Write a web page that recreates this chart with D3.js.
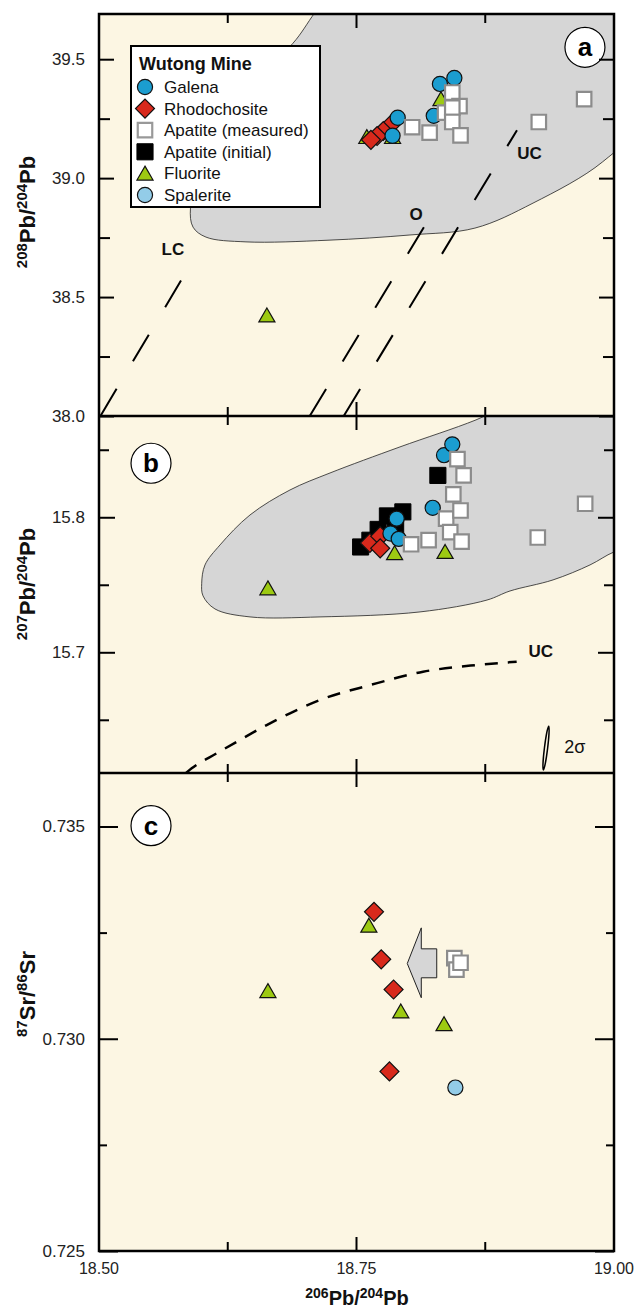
<!DOCTYPE html>
<html>
<head>
<meta charset="utf-8">
<script src="https://cdn.jsdelivr.net/npm/d3@7"></script>
<style>
body { margin: 0; background: #ffffff; }
svg text { font-family: "Liberation Sans", Arial, Helvetica, sans-serif; }
</style>
</head>
<body>
<svg id="chart" width="644" height="1309"></svg>
<script>
// ---- DATA -----------------------
var xTicksMajor = [18.50, 18.75, 19.00];
var xTicksMinor = [18.625, 18.875];
var aTicks = [38.0, 38.5, 39.0, 39.5];
var aMinor = [38.25, 38.75, 39.25];
var bTicks = [15.7, 15.8];
var bMinor = [15.65, 15.75, 15.85];
var cTicks = [0.725, 0.730, 0.735];
var cMinor = [0.7275, 0.7325];

var minerals = ["Galena", "Rhodochosite", "Apatite (measured)", "Apatite (initial)", "Fluorite", "Spalerite"];

// panel a : 206Pb/204Pb vs 208Pb/204Pb
var galenaA = [[18.785, 39.178], [18.790, 39.254], [18.825, 39.262], [18.831, 39.396], [18.845, 39.421]];
var rhodoA = [[18.783, 39.223], [18.776, 39.198], [18.770, 39.177], [18.764, 39.161]];
var fluoriteA = [[18.663, 38.415], [18.760, 39.165], [18.785, 39.165], [18.832, 39.324]];
var apatiteMeasA = [[18.836, 39.275], [18.804, 39.214], [18.821, 39.191], [18.843, 39.360], [18.850, 39.303],
    [18.843, 39.296], [18.843, 39.236], [18.851, 39.180], [18.927, 39.236], [18.971, 39.332]];

// panel b : 206Pb/204Pb vs 207Pb/204Pb
var galenaB = [[18.783, 15.788], [18.789, 15.799], [18.791, 15.784], [18.824, 15.807], [18.835, 15.846], [18.843, 15.854]];
var rhodoB = [[18.763, 15.781], [18.773, 15.786], [18.773, 15.777]];
var apatiteInitB = [[18.754, 15.778], [18.763, 15.783], [18.771, 15.791], [18.788, 15.792], [18.780, 15.801], [18.795, 15.804], [18.829, 15.831]];
var fluoriteB = [[18.664, 15.746], [18.787, 15.772], [18.836, 15.773]];
var apatiteMeasB = [[18.803, 15.780], [18.820, 15.783], [18.837, 15.799], [18.841, 15.789], [18.844, 15.817], [18.848, 15.843],
    [18.851, 15.805], [18.852, 15.782], [18.854, 15.831], [18.926, 15.785], [18.972, 15.810]];

// panel c : 206Pb/204Pb vs 87Sr/86Sr
var rhodoC = [[18.767, 0.73299], [18.774, 0.73187], [18.786, 0.73116], [18.782, 0.72923]];
var fluoriteC = [[18.664, 0.73108], [18.762, 0.73262], [18.793, 0.73060], [18.835, 0.73030]];
var apatiteMeasC = [[18.845, 0.73190], [18.847, 0.73163], [18.851, 0.73179]];
var spaleriteC = [[18.846, 0.72885]];

// grey fields, growth curves, arrow
var fieldA = [[18.7388, 39.802], [18.6883, 39.567], [18.6369, 39.307], [18.5981, 39.034], [18.5888, 38.874], [18.5913, 38.794],
    [18.6039, 38.752], [18.6427, 38.732], [18.7223, 38.739], [18.8019, 38.761], [18.8650, 38.790], [18.9214, 38.895],
    [18.9888, 39.068], [19.0252, 39.244], [19.0252, 39.802]];
var fieldB = [[18.5997, 15.7511], [18.6029, 15.7647], [18.6175, 15.7795], [18.6466, 15.8017], [18.6854, 15.8202],
    [18.7243, 15.8328], [18.7922, 15.8521], [18.8660, 15.8721], [18.9087, 15.8869], [19.0252, 15.8869], [19.0252, 15.7795],
    [19.0, 15.7743], [18.9767, 15.7647], [18.9408, 15.7536], [18.8990, 15.7454], [18.8767, 15.7387], [18.8117, 15.7299],
    [18.7146, 15.7262], [18.6466, 15.7262], [18.6126, 15.7321], [18.6010, 15.7418]];
var lcLineA = [[18.5017, 38.0021], [18.5803, 38.5744]];
var oLineA = [[18.7049, 38.0021], [18.8165, 38.8013]];
var ucLineA = [[18.7379, 38.0021], [18.9058, 39.2017]];
var ucCurveB = [[18.5845, 15.6107], [18.5900, 15.6141], [18.6143, 15.6252], [18.6369, 15.6351], [18.6628, 15.6461],
    [18.6854, 15.6548], [18.7146, 15.6647], [18.7631, 15.6757], [18.8146, 15.6856], [18.8667, 15.6906], [18.9055, 15.6930]];
var arrowC = [[18.7993, 0.731772], [18.8129, 0.732612], [18.8129, 0.732118], [18.8279, 0.732118],
    [18.8279, 0.731436], [18.8129, 0.731436], [18.8129, 0.730966]];

// ---- SCALES -----------------------
var svg = d3.select("#chart");
var left = 99, right = 614;
var x = d3.scaleLinear().domain([18.5, 19.0]).range([left, right]);
var ya = d3.scaleLinear().domain([38.0, 39.69]).range([416, 14]);
var yb = d3.scaleLinear().domain([15.6106, 15.875]).range([773, 416]);
var yc = d3.scaleLinear().domain([0.725, 0.73626]).range([1251, 773]);

var cream = "#fcf6e3";
var grey = "#d6d6d6";

// marker styles
var styles = {
    "Galena": { type: d3.symbolCircle, size: 180, fill: "#1b9dd0", stroke: "#111", sw: 1.2, rot: 0 },
    "Rhodochosite": { type: d3.symbolSquare, size: 180, fill: "#d8291c", stroke: "#111", sw: 1.2, rot: 45 },
    "Apatite (measured)": { type: d3.symbolSquare, size: 210, fill: "#ffffff", stroke: "#8c8c8c", sw: 2.2, rot: 0 },
    "Apatite (initial)": { type: d3.symbolSquare, size: 260, fill: "#000000", stroke: "#000", sw: 1, rot: 0 },
    "Fluorite": { type: d3.symbolTriangle, size: 112, fill: "#9dca12", stroke: "#111", sw: 1.2, rot: 0 },
    "Spalerite": { type: d3.symbolCircle, size: 180, fill: "#93cce8", stroke: "#111", sw: 1.2, rot: 0 }
};

function drawPoints(g, data, name, y) {
    var s = styles[name];
    g.selectAll(null)
        .data(data)
        .enter().append("path")
        .attr("d", d3.symbol().type(s.type).size(s.size))
        .attr("transform", function (d) {
            return "translate(" + x(d[0]) + "," + y(d[1]) + ") rotate(" + s.rot + ")";
        })
        .style("fill", s.fill)
        .style("stroke", s.stroke)
        .style("stroke-width", s.sw);
}

// ---- PANELS -----------------------
function makePanel(id, y) {
    var r = y.range();
    svg.append("clipPath").attr("id", "clip-" + id)
        .append("rect").attr("x", left).attr("y", r[1]).attr("width", right - left).attr("height", r[0] - r[1]);
    var g = svg.append("g").attr("clip-path", "url(#clip-" + id + ")");
    g.append("rect").attr("x", left).attr("y", r[1]).attr("width", right - left).attr("height", r[0] - r[1])
        .style("fill", cream);
    return g;
}

var ga = makePanel("a", ya);
var gb = makePanel("b", yb);
var gc = makePanel("c", yc);

// grey fields
ga.append("path")
    .attr("d", d3.line().x(function (d) { return x(d[0]); }).y(function (d) { return ya(d[1]); })
        .curve(d3.curveCatmullRomClosed.alpha(0.5))(fieldA))
    .style("fill", grey).style("stroke", "#222").style("stroke-width", 0.8);
gb.append("path")
    .attr("d", d3.line().x(function (d) { return x(d[0]); }).y(function (d) { return yb(d[1]); })
        .curve(d3.curveCatmullRomClosed.alpha(0.5))(fieldB))
    .style("fill", grey).style("stroke", "#222").style("stroke-width", 0.8);

// growth curves panel a
[lcLineA, oLineA, ucLineA].forEach(function (ln) {
    ga.append("path")
        .attr("d", d3.line().x(function (d) { return x(d[0]); }).y(function (d) { return ya(d[1]); })(ln))
        .style("fill", "none").style("stroke", "#000").style("stroke-width", 2)
        .style("stroke-dasharray", "31,32");
});
// upper crust curve panel b
gb.append("path")
    .attr("d", d3.line().x(function (d) { return x(d[0]); }).y(function (d) { return yb(d[1]); })
        .curve(d3.curveMonotoneX)(ucCurveB))
    .style("fill", "none").style("stroke", "#000").style("stroke-width", 2.5)
    .style("stroke-dasharray", "13,10");

// curve labels
function label(g, txt, px, py, size) {
    g.append("text").attr("x", px).attr("y", py).attr("text-anchor", "middle")
        .style("font-size", size + "px").style("font-weight", "bold").style("fill", "#111").text(txt);
}
label(ga, "LC", x(18.5718), ya(38.704) + 6, 17);
label(ga, "O", x(18.8078), ya(38.850) + 6, 17);
label(ga, "UC", x(18.918), ya(39.106) + 6, 17);
label(gb, "UC", x(18.929), yb(15.701) + 6, 17);

// 2 sigma ellipse
gb.append("ellipse")
    .attr("cx", x(18.934)).attr("cy", yb(15.629)).attr("rx", 1.6).attr("ry", 22)
    .attr("transform", "rotate(7," + x(18.934) + "," + yb(15.629) + ")")
    .style("fill", "none").style("stroke", "#000").style("stroke-width", 1.5);
gb.append("text").attr("x", x(18.962)).attr("y", yb(15.630) + 6).attr("text-anchor", "middle")
    .style("font-size", "18px").style("fill", "#111").text("2σ");

// arrow panel c
gc.append("path")
    .attr("d", d3.line().x(function (d) { return x(d[0]); }).y(function (d) { return yc(d[1]); })(arrowC) + "Z")
    .style("fill", grey).style("stroke", "#222").style("stroke-width", 1);

// points
drawPoints(ga, fluoriteA, "Fluorite", ya);
drawPoints(ga, rhodoA, "Rhodochosite", ya);
drawPoints(ga, galenaA, "Galena", ya);
drawPoints(ga, apatiteMeasA, "Apatite (measured)", ya);

drawPoints(gb, fluoriteB, "Fluorite", yb);
drawPoints(gb, apatiteInitB, "Apatite (initial)", yb);
drawPoints(gb, rhodoB, "Rhodochosite", yb);
drawPoints(gb, galenaB, "Galena", yb);
drawPoints(gb, apatiteMeasB, "Apatite (measured)", yb);

drawPoints(gc, rhodoC, "Rhodochosite", yc);
drawPoints(gc, fluoriteC, "Fluorite", yc);
drawPoints(gc, apatiteMeasC, "Apatite (measured)", yc);
drawPoints(gc, spaleriteC, "Spalerite", yc);

// ---- LEGEND -----------------------
var legend = svg.append("g").attr("transform", "translate(131,46)");
legend.append("rect").attr("width", 189).attr("height", 161)
    .style("fill", "#ffffff").style("stroke", "#000").style("stroke-width", 2);
legend.append("text").attr("x", 8).attr("y", 24)
    .style("font-size", "18px").style("font-weight", "bold").style("fill", "#111").text("Wutong Mine");
minerals.forEach(function (m, i) {
    var s = styles[m];
    var cy = 41 + i * 21.6;
    legend.append("path")
        .attr("d", d3.symbol().type(s.type).size(s.size)())
        .attr("transform", "translate(14," + (m == "Fluorite" ? cy + 2 : cy) + ") rotate(" + s.rot + ")")
        .style("fill", s.fill).style("stroke", m == "Apatite (measured)" ? "#999" : s.stroke).style("stroke-width", s.sw);
    legend.append("text").attr("x", 33).attr("y", cy + 6)
        .style("font-size", "17px").style("fill", "#111").text(m);
});

// ---- PANEL LETTERS -----------------------
[["a", x(18.9718), ya(39.55)], ["b", x(18.5505), yb(15.840)], ["c", x(18.5505), yc(0.73502)]].forEach(function (p) {
    svg.append("circle").attr("cx", p[1]).attr("cy", p[2]).attr("r", 20)
        .style("fill", "#fff").style("stroke", "#000").style("stroke-width", 1.2);
    svg.append("text").attr("x", p[1]).attr("y", p[2] + 9).attr("text-anchor", "middle")
        .style("font-size", "26px").style("font-weight", "bold").style("fill", "#000").text(p[0]);
});

// ---- AXES -----------------------
function yAxes(y, major, minor, fmt, majorLen, minorLen) {
    var gl = svg.append("g").attr("transform", "translate(" + left + ",0)")
        .call(d3.axisLeft(y).tickValues(major).tickSizeInner(-majorLen).tickSizeOuter(0).tickPadding(14).tickFormat(d3.format(fmt)));
    var gl2 = svg.append("g").attr("transform", "translate(" + left + ",0)")
        .call(d3.axisLeft(y).tickValues(minor).tickSizeInner(-minorLen).tickSizeOuter(0).tickFormat(""));
    var gr = svg.append("g").attr("transform", "translate(" + right + ",0)")
        .call(d3.axisRight(y).tickValues(major).tickSizeInner(-majorLen).tickSizeOuter(0).tickFormat(""));
    var gr2 = svg.append("g").attr("transform", "translate(" + right + ",0)")
        .call(d3.axisRight(y).tickValues(minor).tickSizeInner(-minorLen).tickSizeOuter(0).tickFormat(""));
    [gl, gl2, gr, gr2].forEach(function (g) {
        g.select(".domain").remove();
        g.selectAll("line").style("stroke", "#000").style("stroke-width", 2);
        g.selectAll("text").style("font-size", "17px").style("fill", "#222")
            .style("font-family", "'Liberation Sans', Arial, sans-serif");
    });
}
yAxes(ya, aTicks, aMinor, ".1f", 15, 11);
yAxes(yb, bTicks, bMinor, ".1f", 16, 10);
yAxes(yc, cTicks, cMinor, ".3f", 19, 8);

// x ticks on every panel border
var borders = [[14, 0, 1], [416, 1, 1], [773, 1, 1], [1251, 1, 0]];
borders.forEach(function (b) {
    xTicksMinor.concat([18.75]).forEach(function (t) {
        var len = t == 18.75 ? 14 : 9;
        svg.append("line")
            .attr("x1", x(t)).attr("x2", x(t))
            .attr("y1", b[0] - len * b[1]).attr("y2", b[0] + len * b[2])
            .style("stroke", "#000").style("stroke-width", 2);
    });
});

// x tick labels
svg.selectAll(".xlab")
    .data(xTicksMajor)
    .enter().append("text")
    .attr("class", "xlab")
    .attr("x", function (d) { return x(d); })
    .attr("y", 1274)
    .attr("text-anchor", "middle")
    .style("font-size", "16px").style("fill", "#222")
    .text(d3.format(".2f"));

// frame
svg.append("rect").attr("x", left).attr("y", 14).attr("width", right - left).attr("height", 1251 - 14)
    .style("fill", "none").style("stroke", "#000").style("stroke-width", 2.5);
[416, 773].forEach(function (yy) {
    svg.append("line").attr("x1", left).attr("x2", right).attr("y1", yy).attr("y2", yy)
        .style("stroke", "#000").style("stroke-width", 2.5);
});

// ---- AXIS TITLES -----------------------
function isoTitle(g, parts, big, small, shift) {
    var t = g.append("text").attr("text-anchor", "middle").style("font-weight", "bold").style("fill", "#111");
    parts.forEach(function (p) {
        t.append("tspan")
            .attr("dy", p[1] ? -shift : shift)
            .style("font-size", p[1] ? small + "px" : big + "px")
            .text(p[0]);
    });
    return t;
}
var t208 = [["208", 1], ["Pb/", 0], ["204", 1], ["Pb", 0]];
var t207 = [["207", 1], ["Pb/", 0], ["204", 1], ["Pb", 0]];
var t206 = [["206", 1], ["Pb/", 0], ["204", 1], ["Pb", 0]];
var tSr = [["87", 1], ["Sr/", 0], ["86", 1], ["Sr", 0]];

isoTitle(svg.append("g").attr("transform", "translate(35,212) rotate(-90)"), t208, 22, 15, 8);
isoTitle(svg.append("g").attr("transform", "translate(35,584) rotate(-90)"), t207, 22, 15, 8);
isoTitle(svg.append("g").attr("transform", "translate(35,994) rotate(-90)"), tSr, 22, 15, 8);
isoTitle(svg.append("g").attr("transform", "translate(357,1305)"), t206, 20, 14, 7);
</script>
</body>
</html>
